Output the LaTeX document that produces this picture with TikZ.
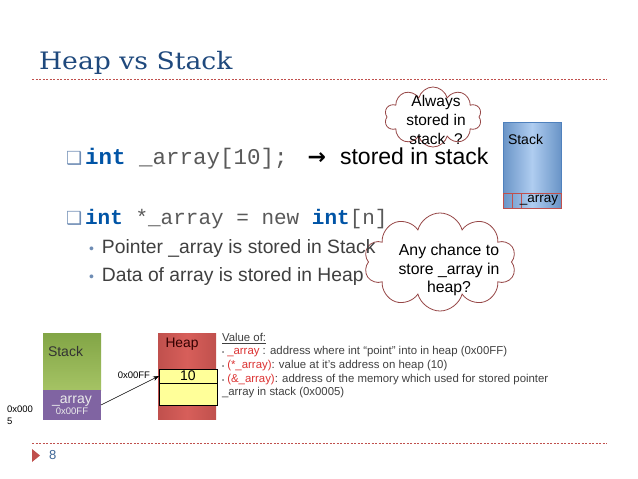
\documentclass[tikz,border=0pt]{standalone}
\usepackage{fontspec}
\setmainfont{Liberation Sans}
\newfontfamily\titlefont[FakeStretch=1.11]{DejaVu Serif}
\newfontfamily\codefont{Liberation Mono}
\newfontfamily\symfont{DejaVu Sans}
\usetikzlibrary{shapes.symbols,arrows.meta}

\definecolor{titleblue}{RGB}{31,73,125}
\definecolor{slidered}{RGB}{192,80,77}
\definecolor{codeblue}{RGB}{0,84,166}
\definecolor{codegray}{RGB}{89,89,89}
\definecolor{bodygray}{RGB}{64,64,64}
\definecolor{bulletblue}{RGB}{110,140,180}
\definecolor{cloudred}{RGB}{150,70,70}
\definecolor{stackblue}{RGB}{79,129,189}
\definecolor{stacklight}{RGB}{175,205,240}
\definecolor{stackgreen}{RGB}{130,165,70}
\definecolor{stackgreenlight}{RGB}{165,195,100}
\definecolor{stackpurple}{RGB}{128,100,162}
\definecolor{heapred}{RGB}{192,80,77}
\definecolor{heaplight}{RGB}{215,95,90}
\definecolor{cellyellow}{RGB}{255,255,153}
\definecolor{memored}{RGB}{220,50,50}

\newcommand{\fs}[1]{\fontsize{#1}{#1}\selectfont}

\begin{document}
\begin{tikzpicture}[x=1pt,y=-1pt,
    every node/.style={inner sep=0pt,outer sep=0pt},
    thought/.style={cloud,cloud puffs=10,cloud ignores aspect,draw=cloudred,line width=0.8pt,fill=white},
    cell/.style={draw=black,fill=cellyellow,line width=0.6pt,anchor=north west},
    rowbox/.style={draw=slidered,line width=0.6pt,anchor=north west,minimum height=15},
    divider/.style={slidered,dash pattern=on 2pt off 1.5pt,line width=0.7pt}]
    \fill[white] (0,0) rectangle (638,479);
    \useasboundingbox (0,0) rectangle (638,479);

    % title
    \node[anchor=base west,font=\titlefont\fs{24},text=titleblue] (title) at (39,69) {Heap vs Stack};
    \draw[divider] (32,79) -- (607,79);

    % clouds
    \node[thought,minimum width=97,minimum height=60] (c1) at (433,117) {};
    \node[thought,minimum width=152,minimum height=98] (c2) at (440,262) {};

    % bullets
    \node[anchor=base west] (line1) at (66,164)
        {{\fs{18}\symfont\color{bulletblue}❑}\hspace{3pt}{\codefont\fs{22.5}{\bfseries\color{codeblue}int} {\color{codegray}\_array[10];}}\hspace{20pt}{\symfont\bfseries\fs{22}→}\hspace{14pt}{\fs{23}stored in stack}};
    \node[anchor=base west] (line2) at (66,224)
        {{\fs{18}\symfont\color{bulletblue}❑}\hspace{3pt}{\codefont\fs{21}{\bfseries\color{codeblue}int} {\color{codegray}*\_array = new }{\bfseries\color{codeblue}int}{\color{codegray}[n]}}};
    \node[anchor=base west,font=\fs{19.3},text=bodygray] (sub1) at (89,253)
        {{\color{bulletblue}\fs{14}•}\hspace{8pt}Pointer \_array is stored in Stack};
    \node[anchor=base west,font=\fs{19.3},text=bodygray] (sub2) at (89,281)
        {{\color{bulletblue}\fs{14}•}\hspace{8pt}Data of array is stored in Heap};

    % cloud texts
    \node[align=center,font=\fs{15.5}] (c1txt) at (436,120) {Always\\[3.5pt]stored in\\[3.5pt]stack\ \ ?};
    \node[align=center,font=\fs{15.8}] (c2txt) at (449,270) {Any chance to\\[3pt]store \_array in\\[3pt]heap?};

    % small stack
    \node[draw=stackblue,line width=0.6pt,anchor=north west,minimum width=58,minimum height=86,
        left color=stackblue!85,right color=stackblue!85,middle color=stacklight] (tstack) at (503,122) {};
    \node[anchor=west,font=\fs{14}] (tstacklbl) at (508,139) {Stack};
    \node[rowbox,minimum width=9] (tcell1) at (503,193) {};
    \node[rowbox,minimum width=9] (tcell2) at (512,193) {};
    \node[rowbox,minimum width=40,font=\fs{13.5}] (tarray) at (521,193) {\hspace{-4pt}\_array};

    % stack and heap
    \node[anchor=north west,minimum width=58,minimum height=57,
        top color=stackgreen,bottom color=stackgreenlight] (gstack) at (43,333) {};
    \node[anchor=west,font=\fs{14},text=black!80] (gstacklbl) at (48,351) {Stack};
    \node[anchor=north west,minimum width=58,minimum height=30,fill=stackpurple,
        align=center,text=white!92!black] (gptr) at (43,390)
        {{\fs{14}\_array}\\[-1pt]{\fs{9.5}0x00FF}};
    \node[anchor=west,align=left,font=\fs{9.5}] (saddr) at (7,415) {0x000\\[2pt]5};

    \node[anchor=north west,minimum width=58,minimum height=86,
        left color=heapred,right color=heapred,middle color=heaplight] (heap) at (158,333) {};
    \node[font=\fs{13.8},text=black!80!red] (heaplbl) at (182,344) {Heap};
    \node[cell,minimum width=58,minimum height=14,font=\fs{14}] (val) at (159,369) {10};
    \node[cell,minimum width=58,minimum height=22] (free) at (159,383) {};
    \node[anchor=east,font=\fs{9.5}] (addr) at (150,375) {0x00FF};
    \draw[-{Stealth[length=6pt,width=4.5pt]},line width=0.5pt] (gptr.east) -- (val.west);

    % explanation
    \node[anchor=north west,align=left,font=\fontsize{11.4}{13.6}\selectfont,text=bodygray] (memo) at (222,333)
        {\underline{Value of:}\\
         {\fs{6}•} {\color{memored}\_array} : address where int ``point'' into in heap (0x00FF)\\
         {\fs{6}•} {\color{memored}(*\_array)}: value at it's address on heap (10)\\
         {\fs{6}•} {\color{memored}(\&\_array)}: address of the memory which used for stored pointer\\
         \_array in stack (0x0005)};

    % footer
    \draw[divider] (32,443) -- (607,443);
    \fill[slidered] (32,449) -- (40,455.5) -- (32,462) -- cycle;
    \node[anchor=west,font=\fs{13},text=stackblue!80!black] (pagenum) at (49,455) {8};
\end{tikzpicture}
\end{document}
